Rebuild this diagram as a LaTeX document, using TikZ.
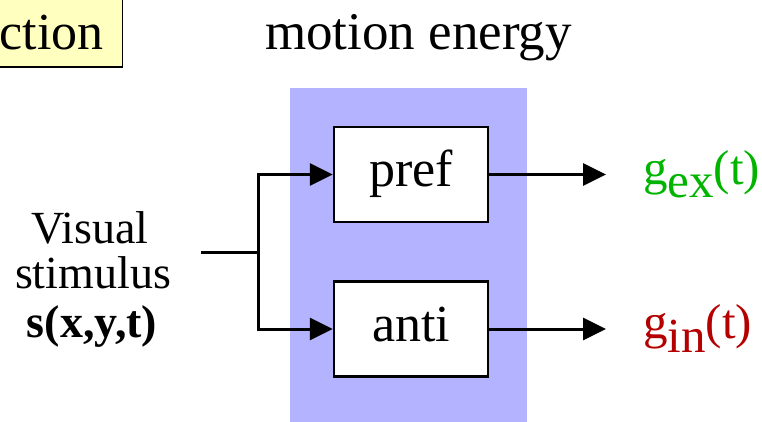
\documentclass[tikz,border=0pt]{standalone}
\usepackage{fontspec}
\setmainfont{Liberation Serif}
\usetikzlibrary{arrows.meta}
\definecolor{bgblue}{RGB}{179,179,255}
\definecolor{noteyellow}{RGB}{255,255,192}
\definecolor{exgreen}{RGB}{0,180,0}
\definecolor{inred}{RGB}{180,0,0}
\tikzset{
  lbl/.style={inner sep=0pt, anchor=base},
  filt/.style={draw=black, fill=white, line width=2.5pt, minimum width=154pt, minimum height=95pt,
    inner sep=0pt, text height=35pt, text depth=11pt, font=\fontsize{52}{60}\selectfont},
  wire/.style={line width=3pt},
  arr/.style={wire, -{Triangle[length=23pt,width=22pt]}},
}
\begin{document}
\begin{tikzpicture}[x=1pt,y=-1pt]
\clip (0,0) rectangle (762,422);
\useasboundingbox (0,0) rectangle (762,422);
% yellow title box (cut off)
\node[draw=black, fill=noteyellow, line width=1.5pt, minimum width=143pt, minimum height=88pt, anchor=south east, inner sep=0pt] (title) at (123,68) {};
\node[lbl, anchor=base east, font=\fontsize{52}{60}\selectfont] (titletext) at (104,50) {ction};
% motion energy
\node[lbl, font=\fontsize{53}{60}\selectfont] (me) at (418.5,50) {motion energy};
\fill[bgblue] (290,88) rectangle (527,430);
% filters
\node[filt] (pref) at (411,174.5) {pref};
\node[filt] (anti) at (411,329) {anti};
% stimulus
\node[lbl, font=\fontsize{46}{52}\selectfont] (vis) at (90,243) {Visual};
\node[lbl, font=\fontsize{46}{52}\selectfont] (stim) at (93,288) {stimulus};
\node[lbl, font=\fontsize{46}{52}\selectfont\bfseries] (sxyt) at (92,337) {s(x,y,t)};
\coordinate (in) at (201,252);
\coordinate (j) at (258,252);
\draw[wire] (in) -- (j);
\draw[arr] (j) |- (pref.west);
\draw[arr] (j) |- (anti.west);
% outputs
\coordinate (exend) at (606,174.5);
\coordinate (inend) at (606,329);
\draw[arr] (pref.east) -- (exend);
\draw[arr] (anti.east) -- (inend);
\node[lbl, anchor=base west, text=exgreen, font=\fontsize{49}{56}\selectfont] (gex) at (643,185) {g\raisebox{-13pt}{ex}(t)};
\node[lbl, anchor=base west, text=inred, font=\fontsize{49}{56}\selectfont] (gin) at (643,338) {g\raisebox{-14pt}{in}(t)};
\end{tikzpicture}
\end{document}
